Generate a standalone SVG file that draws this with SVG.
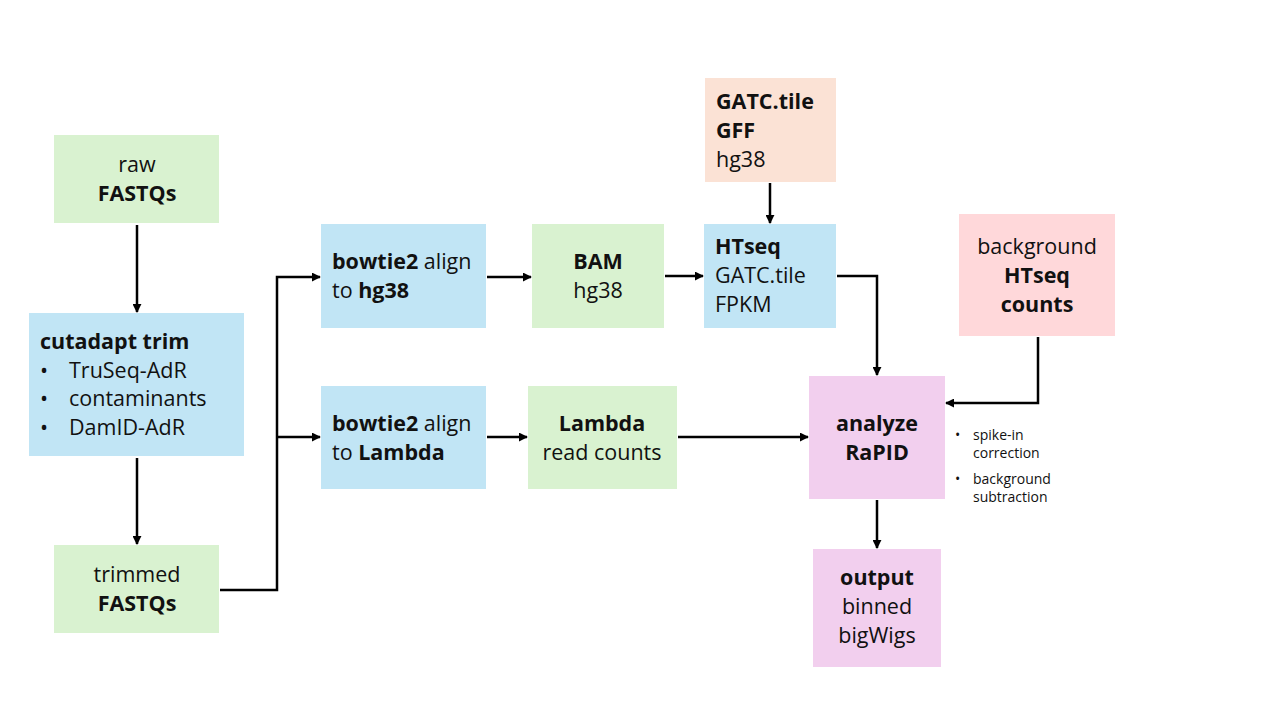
<svg xmlns="http://www.w3.org/2000/svg" width="1280" height="720" viewBox="0 0 1280 720">
<defs>
<marker id="ah" viewBox="0 0 10 10" refX="9" refY="5" markerWidth="3.6" markerHeight="3.6" orient="auto" markerUnits="strokeWidth">
<path d="M0,0 L10,5 L0,10 Z" fill="#000"/>
</marker>
<style>
text{font-family:"Open Sans","Liberation Sans",sans-serif;font-size:21.5px;fill:#111;}
.b{font-weight:bold;}
.c{text-anchor:middle;}
.s{font-size:14px;}
.green{fill:#D9F2D0;}
.blue{fill:#C1E5F5;}
.peach{fill:#FBE2D5;}
.pink{fill:#FFD8DA;}
.purple{fill:#F2CFEE;}
.conn path{fill:none;stroke:#000;stroke-width:2.5;marker-end:url(#ah);}
</style>
</defs>
<rect width="1280" height="720" fill="#fff"/>

<g id="raw">
<rect class="green" x="54" y="135" width="165" height="88"/>
<text class="c" x="137" y="172">raw</text>
<text class="c b" x="137" y="201">FASTQs</text>
</g>

<g id="cutadapt">
<rect class="blue" x="29" y="313" width="215" height="143"/>
<text class="b" x="40" y="349">cutadapt trim</text>
<text x="40" y="378">•</text><text x="69" y="378">TruSeq-AdR</text>
<text x="40" y="406">•</text><text x="69" y="406">contaminants</text>
<text x="40" y="435">•</text><text x="69" y="435">DamID-AdR</text>
</g>

<g id="trimmed">
<rect class="green" x="54" y="545" width="165" height="88"/>
<text class="c" x="137" y="582">trimmed</text>
<text class="c b" x="137" y="611">FASTQs</text>
</g>

<g id="bowtie-hg38">
<rect class="blue" x="321" y="224" width="165" height="104"/>
<text x="332" y="269"><tspan class="b">bowtie2</tspan> align</text>
<text x="332" y="298">to <tspan class="b">hg38</tspan></text>
</g>

<g id="bam">
<rect class="green" x="532" y="224" width="132" height="104"/>
<text class="c b" x="598" y="269">BAM</text>
<text class="c" x="598" y="298">hg38</text>
</g>

<g id="bowtie-lambda">
<rect class="blue" x="321" y="386" width="165" height="103"/>
<text x="332" y="431"><tspan class="b">bowtie2</tspan> align</text>
<text x="332" y="460">to <tspan class="b">Lambda</tspan></text>
</g>

<g id="lambda">
<rect class="green" x="528" y="386" width="149" height="103"/>
<text class="c b" x="602" y="431">Lambda</text>
<text class="c" x="602" y="460">read counts</text>
</g>

<g id="gatc">
<rect class="peach" x="705" y="78" width="131" height="104"/>
<text class="b" x="716" y="109">GATC.tile</text>
<text class="b" x="716" y="138">GFF</text>
<text x="716" y="167">hg38</text>
</g>

<g id="htseq">
<rect class="blue" x="704" y="224" width="132" height="104"/>
<text class="b" x="715" y="254">HTseq</text>
<text x="715" y="283">GATC.tile</text>
<text x="715" y="312">FPKM</text>
</g>

<g id="background">
<rect class="pink" x="959" y="214" width="156" height="122"/>
<text class="c" x="1037" y="254">background</text>
<text class="c b" x="1037" y="283">HTseq</text>
<text class="c b" x="1037" y="312">counts</text>
</g>

<g id="analyze">
<rect class="purple" x="809" y="376" width="136" height="123"/>
<text class="c b" x="877" y="431">analyze</text>
<text class="c b" x="877" y="460">RaPID</text>
</g>

<g id="notes">
<text class="s" x="955" y="440">•</text><text class="s" x="973" y="440">spike-in</text>
<text class="s" x="973" y="458">correction</text>
<text class="s" x="955" y="484">•</text><text class="s" x="973" y="484">background</text>
<text class="s" x="973" y="502">subtraction</text>
</g>

<g id="output">
<rect class="purple" x="813" y="549" width="128" height="118"/>
<text class="c b" x="877" y="585">output</text>
<text class="c" x="877" y="614">binned</text>
<text class="c" x="877" y="643">bigWigs</text>
</g>

<g id="connectors" class="conn">
<path d="M137,225 V312"/>
<path d="M137,458 V544"/>
<path d="M220,590 H277 V277 H320"/>
<path d="M277,437 H320"/>
<path d="M487,277 H531"/>
<path d="M665,276 H703"/>
<path d="M770,183 V223"/>
<path d="M487,437 H527"/>
<path d="M678,437 H808"/>
<path d="M837,276 H877 V375"/>
<path d="M1038,337 V403 H946"/>
<path d="M877,500 V548"/>
</g>
</svg>
